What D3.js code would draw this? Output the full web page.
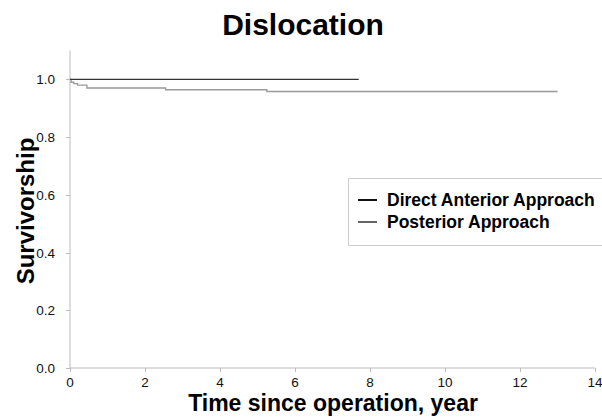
<!DOCTYPE html>
<html>
<head>
    <title>Dislocation</title>
    <script src="https://cdnjs.cloudflare.com/ajax/libs/d3/7.8.5/d3.min.js"></script>
    <style>
        body {
            margin: 0;
            background: white;
            font-family: "Liberation Sans", Arial, Helvetica, sans-serif;
        }
    </style>
</head>
<body>
    <div id="chart"></div>
    <script>
        // survival curves (time in years, survivorship)
        const daaTimes = [0, 7.7];
        const daaValues = [1.0, 1.0];
        const paTimes = [0, 0.03, 0.1, 0.2, 0.45, 2.55, 5.25, 13.0];
        const paValues = [1.0, 0.99, 0.985, 0.98, 0.97, 0.964, 0.958, 0.958];

        const seriesNames = ["Direct Anterior Approach", "Posterior Approach"];
        const seriesColors = ["#333", "#999"];
        const legendColors = ["#111", "#666"];
        const xTicks = [0, 2, 4, 6, 8, 10, 12, 14];
        const yTicks = [0, 0.2, 0.4, 0.6, 0.8, 1.0];

        const width = 602, height = 418;
        const svg = d3.select("#chart").append("svg")
            .attr("width", width)
            .attr("height", height);

        const x = d3.scaleLinear().domain([0, 14]).range([70, 595]);
        const y = d3.scaleLinear().domain([0, 1.1]).range([368, 50.5]);

        // axis lines
        svg.append("line")
            .attr("x1", x(0)).attr("x2", x(0))
            .attr("y1", y(1.1)).attr("y2", y(0))
            .attr("stroke", "#bbb");
        svg.append("line")
            .attr("x1", x(0)).attr("x2", x(14))
            .attr("y1", y(0)).attr("y2", y(0))
            .attr("stroke", "#bbb");

        // y ticks
        svg.selectAll(".ytick").data(yTicks).join("line")
            .attr("x1", x(0) - 4).attr("x2", x(0))
            .attr("y1", d => Math.round(y(d)) + 0.5)
            .attr("y2", d => Math.round(y(d)) + 0.5)
            .attr("stroke", "#bbb");
        svg.selectAll(".ylab").data(yTicks).join("text")
            .attr("x", 55)
            .attr("y", d => y(d) + 5)
            .attr("text-anchor", "end")
            .attr("font-size", 13.5)
            .attr("fill", "#111")
            .text(d => d.toFixed(1));

        // x ticks
        svg.selectAll(".xtick").data(xTicks).join("line")
            .attr("x1", d => Math.round(x(d)) + 0.5)
            .attr("x2", d => Math.round(x(d)) + 0.5)
            .attr("y1", y(0)).attr("y2", y(0) + 4)
            .attr("stroke", "#bbb");
        svg.selectAll(".xlab").data(xTicks).join("text")
            .attr("x", d => x(d))
            .attr("y", 387)
            .attr("text-anchor", "middle")
            .attr("font-size", 13.5)
            .attr("fill", "#111")
            .text(d => d);

        // curves
        const stepLine = d3.line()
            .x(d => x(d[0]))
            .y(d => y(d[1]))
            .curve(d3.curveStepAfter);

        svg.append("path")
            .datum(paTimes.map((t, i) => [t, paValues[i]]))
            .attr("d", stepLine)
            .attr("fill", "none")
            .attr("stroke", seriesColors[1])
            .attr("stroke-width", 1.3);
        svg.append("path")
            .datum(daaTimes.map((t, i) => [t, daaValues[i]]))
            .attr("d", stepLine)
            .attr("fill", "none")
            .attr("stroke", seriesColors[0])
            .attr("stroke-width", 1.3);

        // title
        svg.append("text")
            .attr("x", 303).attr("y", 35)
            .attr("text-anchor", "middle")
            .attr("font-size", 30)
            .attr("font-weight", "bold")
            .text("Dislocation");

        // axis titles
        svg.append("text")
            .attr("x", 333).attr("y", 411)
            .attr("text-anchor", "middle")
            .attr("font-size", 23)
            .attr("font-weight", "bold")
            .text("Time since operation, year");
        svg.append("text")
            .attr("transform", "translate(34,211) rotate(-90)")
            .attr("text-anchor", "middle")
            .attr("font-size", 24)
            .attr("font-weight", "bold")
            .text("Survivorship");

        // legend
        const legend = svg.append("g");
        legend.append("rect")
            .attr("x", 348.5).attr("y", 178.5)
            .attr("width", 270).attr("height", 67)
            .attr("fill", "white")
            .attr("stroke", "#ccc");
        seriesNames.forEach((name, i) => {
            const ly = 200 + i * 22;
            legend.append("line")
                .attr("x1", 358).attr("x2", 377)
                .attr("y1", ly).attr("y2", ly)
                .attr("stroke", legendColors[i])
                .attr("stroke-width", 2);
            legend.append("text")
                .attr("x", 387).attr("y", ly + 6)
                .attr("font-size", 17.5)
                .attr("font-weight", "bold")
                .text(name);
        });
    </script>
</body>
</html>
